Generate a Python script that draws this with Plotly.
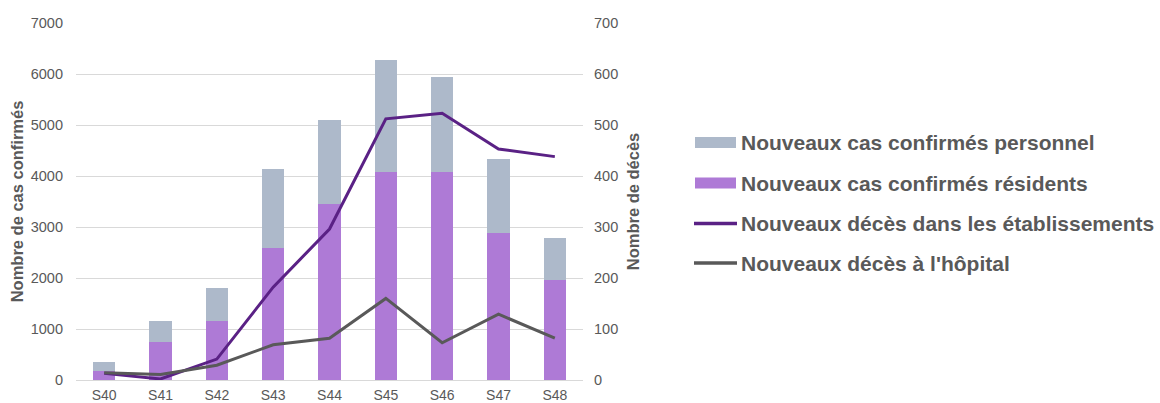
import plotly.graph_objects as go

# Weekly data
weeks = ["S40", "S41", "S42", "S43", "S44", "S45", "S46", "S47", "S48"]
cas_residents = [180, 750, 1150, 2580, 3450, 4080, 4080, 2890, 1960]
cas_personnel = [170, 400, 650, 1550, 1640, 2200, 1870, 1440, 820]
deces_etablissements = [13, 2, 41, 182, 296, 512, 523, 453, 438]
deces_hopital = [14, 11, 29, 69, 82, 160, 73, 129, 82]

series_names = [
    "Nouveaux cas confirmés personnel",
    "Nouveaux cas confirmés résidents",
    "Nouveaux décès dans les établissements",
    "Nouveaux décès à l'hôpital",
]
series_colors = ["#ADB9CA", "#AE7AD6", "#5A2185", "#595959"]
series_kinds = ["bar", "bar", "line", "line"]

TEXT = "#595959"
FONT = "Liberation Sans, Arial, sans-serif"

fig = go.Figure()
fig.add_trace(go.Bar(x=weeks, y=cas_residents, name=series_names[1],
                     marker=dict(color=series_colors[1], line=dict(width=0)),
                     yaxis="y", showlegend=False))
fig.add_trace(go.Bar(x=weeks, y=cas_personnel, name=series_names[0],
                     marker=dict(color=series_colors[0], line=dict(width=0)),
                     yaxis="y", showlegend=False))
fig.add_trace(go.Scatter(x=weeks, y=deces_etablissements, name=series_names[2],
                         mode="lines", line=dict(color=series_colors[2], width=3),
                         yaxis="y2", showlegend=False))
fig.add_trace(go.Scatter(x=weeks, y=deces_hopital, name=series_names[3],
                         mode="lines", line=dict(color=series_colors[3], width=3),
                         yaxis="y2", showlegend=False))

# Hand-drawn legend on the right side (pixel-like paper coordinates)
W, H = 1160, 403
ml, mr, mt, mb = 76, 577, 23, 23
pw, ph = W - ml - mr, H - mt - mb


def px(xp):
    return (xp - ml) / pw


def py(yp):
    return (H - mb - yp) / ph


legend_y = [142.5, 183, 223.5, 263]
shapes = []
annotations = []
for name, color, kind, yc in zip(series_names, series_colors, series_kinds, legend_y):
    if kind == "bar":
        shapes.append(dict(type="rect", xref="paper", yref="paper",
                           x0=px(695), x1=px(736), y0=py(yc + 5.5), y1=py(yc - 5.5),
                           fillcolor=color, line=dict(width=0)))
    else:
        shapes.append(dict(type="line", xref="paper", yref="paper",
                           x0=px(694), x1=px(737), y0=py(yc), y1=py(yc),
                           line=dict(color=color, width=3.5)))
    annotations.append(dict(xref="paper", yref="paper", x=px(739), y=py(yc),
                            xanchor="left", yanchor="middle", showarrow=False,
                            text=f"<b>{name}</b>",
                            font=dict(family=FONT, size=21, color=TEXT)))

fig.update_layout(
    width=W, height=H,
    margin=dict(l=ml, r=mr, t=mt, b=mb),
    paper_bgcolor="white", plot_bgcolor="white",
    barmode="stack", bargap=0.6,
    font=dict(family=FONT, size=14, color=TEXT),
    xaxis=dict(showgrid=False, showline=True, linecolor="#D9D9D9", linewidth=1,
               ticks="", tickfont=dict(size=14, color=TEXT), ticklabelstandoff=2,
               automargin=False, fixedrange=True),
    yaxis=dict(range=[0, 7000], dtick=1000, showgrid=True, gridcolor="#D9D9D9",
               gridwidth=1, zeroline=False, showline=False, ticks="",
               tickfont=dict(size=14.5, color=TEXT), ticklabelstandoff=12,
               automargin=False,
               title=dict(text="<b>Nombre de cas confirmés</b>",
                          font=dict(size=16.5, color=TEXT), standoff=2)),
    yaxis2=dict(range=[0, 700], dtick=100, overlaying="y", side="right",
                showgrid=False, zeroline=False, showline=False, ticks="",
                tickfont=dict(size=14.5, color=TEXT), ticklabelstandoff=10,
                automargin=False,
                title=dict(text="<b>Nombre de décès</b>",
                           font=dict(size=16.5, color=TEXT), standoff=10)),
    shapes=shapes,
    annotations=annotations,
)

fig.write_html("out.html")
